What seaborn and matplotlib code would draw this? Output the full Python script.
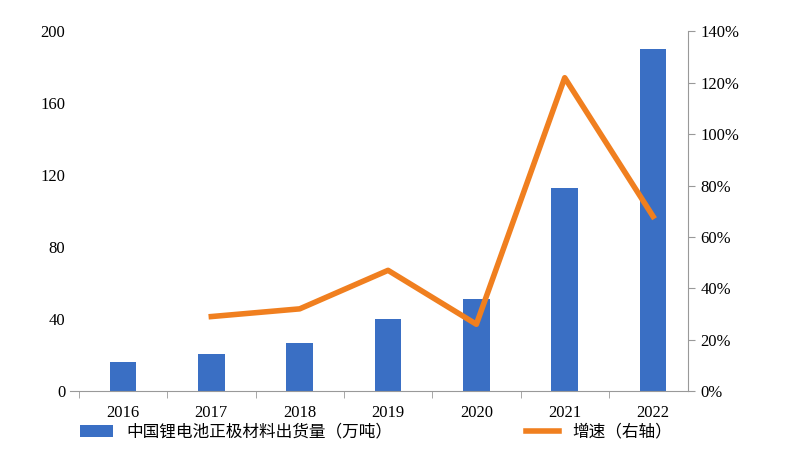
import matplotlib
matplotlib.use("Agg")
import matplotlib.pyplot as plt
import seaborn as sns
import pandas as pd

years = ["2016", "2017", "2018", "2019", "2020", "2021", "2022"]
shipment = [16, 20.5, 27, 40, 51, 113, 190]
growth_years = ["2017", "2018", "2019", "2020", "2021", "2022"]
growth = [29, 32, 47, 26, 122, 68]

plt.rcParams["font.family"] = ["Liberation Serif", "Noto Sans CJK SC"]
plt.rcParams["font.size"] = 12

fig = plt.figure(figsize=(8, 4.7), dpi=100)
ax = fig.add_axes([0.0875, 0.168, 0.773, 0.765])
df = pd.DataFrame({"year": years, "v": shipment})
sns.barplot(data=df, x="year", y="v", color="#3a6fc4", width=0.3, ax=ax,
            saturation=1, label="中国锂电池正极材料出货量（万吨）")
ax.set_ylim(0, 200)
ax.set_yticks(range(0, 201, 40))
ax.set_xlabel(""); ax.set_ylabel("")
for s in ["top", "right", "left"]:
    ax.spines[s].set_visible(False)
ax.spines["bottom"].set_color("#999999")
ax.tick_params(axis="y", length=0)
ax.tick_params(axis="x", length=0, pad=10)
ax.set_xticks([i + 0.5 for i in range(-1, 7)], minor=True)
ax.tick_params(axis="x", which="minor", length=5, color="#999999", direction="out")

ax2 = ax.twinx()
xpos = [years.index(y) for y in growth_years]
sns.lineplot(x=xpos, y=growth, color="#f07f1f", linewidth=4, ax=ax2, label="增速（右轴）")
ax2.set_ylim(0, 140)
ax2.set_yticks(range(0, 141, 20))
ax2.set_yticklabels([f"{v}%" for v in range(0, 141, 20)])
for s in ["top", "left", "bottom"]:
    ax2.spines[s].set_visible(False)
ax2.spines["right"].set_color("#999999")
ax2.tick_params(axis="y", direction="out", color="#999999", length=5)
ax.set_xlim(-0.6, 6.4)

h1, l1 = ax.get_legend_handles_labels()
h2, l2 = ax2.get_legend_handles_labels()
ax2.get_legend().remove()
if ax.get_legend():
    ax.get_legend().remove()
fig.legend(h1 + h2, l1 + l2, loc="lower center", bbox_to_anchor=(0.47, 0.03), ncol=2,
           frameon=False, columnspacing=8, fontsize=12)
fig.savefig("out.png")
